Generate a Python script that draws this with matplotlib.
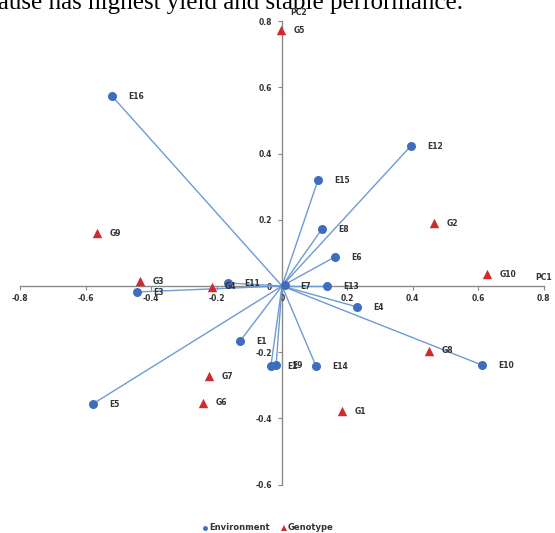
import matplotlib
matplotlib.use("Agg")
import matplotlib.pyplot as plt
from matplotlib.lines import Line2D

plt.rcParams["axes.unicode_minus"] = False

# Environment scores (PC1, PC2)
env_names = ["E1", "E2", "E3", "E4", "E5", "E6", "E7", "E8",
             "E9", "E10", "E11", "E12", "E13", "E14", "E15", "E16"]
env_pc1 = [-0.128, -0.034, -0.443, 0.229, -0.578, 0.162, 0.008, 0.122,
           -0.018, 0.612, -0.165, 0.394, 0.138, 0.104, 0.110, -0.520]
env_pc2 = [-0.166, -0.242, -0.018, -0.063, -0.356, 0.088, 0.002, 0.172,
           -0.239, -0.239, 0.009, 0.423, 0.000, -0.242, 0.320, 0.574]

# Genotype scores (PC1, PC2)
gen_names = ["G1", "G2", "G3", "G4", "G5", "G6", "G7", "G8", "G9", "G10"]
gen_pc1 = [0.183, 0.465, -0.434, -0.214, -0.003, -0.242, -0.223, 0.450, -0.566, 0.627]
gen_pc2 = [-0.378, 0.190, 0.015, -0.003, 0.773, -0.353, -0.272, -0.196, 0.160, 0.036]

x_ticks = [-0.8, -0.6, -0.4, -0.2, 0, 0.2, 0.4, 0.6, 0.8]
y_ticks = [-0.6, -0.4, -0.2, 0, 0.2, 0.4, 0.6, 0.8]

W, H = 555, 533
fig = plt.figure(figsize=(W / 100, H / 100), dpi=100)
fig.patch.set_facecolor("white")

# plot area in pixels
x0, x1 = 20.4, 543.6
y_top, y_bot = 21.2, 484.6
ax = fig.add_axes([x0 / W, (H - y_bot) / H, (x1 - x0) / W, (y_bot - y_top) / H])
ax.set_xlim(-0.8, 0.8)
ax.set_ylim(-0.6, 0.8)
ax.patch.set_alpha(0)

blue = "#3E6DBE"
line_blue = "#6E9AD6"
red = "#D22A2C"
txt = "#333333"

# vectors from origin to each environment
for px, py in zip(env_pc1, env_pc2):
    ax.plot([0, px], [0, py], color=line_blue, lw=1.0, zorder=2, clip_on=False)

ax.scatter(env_pc1, env_pc2, s=42, color=blue, marker="o", zorder=4, clip_on=False,
           linewidths=0)
ax.scatter(gen_pc1, gen_pc2, s=46, color=red, marker="^", zorder=4, clip_on=False,
           linewidths=0)

lab_kw = dict(textcoords="offset points", fontsize=5.5, fontweight="bold",
              color=txt, va="center", ha="left", zorder=5, annotation_clip=False)
for n, px, py in zip(env_names, env_pc1, env_pc2):
    ax.annotate(n, (px, py), xytext=(11.5, -0.5), **lab_kw)
for n, px, py in zip(gen_names, gen_pc1, gen_pc2):
    ax.annotate(n, (px, py), xytext=(9, 0), **lab_kw)

# axes through the origin
for side in ("top", "right"):
    ax.spines[side].set_visible(False)
for side in ("left", "bottom"):
    ax.spines[side].set_position(("data", 0))
    ax.spines[side].set_color("#8A8A8A")
    ax.spines[side].set_linewidth(1.0)
    ax.spines[side].set_zorder(1)

ax.set_xticks(x_ticks)
ax.set_yticks(y_ticks)
ax.set_xticklabels([f"{v:g}" for v in x_ticks])
ax.set_yticklabels([f"{v:g}" for v in y_ticks])
ax.tick_params(axis="both", direction="out", length=3, width=0.8, color="#8A8A8A",
               labelsize=5.5, labelcolor=txt)
ax.tick_params(axis="x", pad=3)
ax.tick_params(axis="y", pad=4)
for lab in ax.get_xticklabels() + ax.get_yticklabels():
    lab.set_fontweight("bold")

ax.text(0.8, 0.012, "PC1", fontsize=5.5, fontweight="bold", color=txt,
        ha="center", va="bottom")
ax.text(0.025, 0.826, "PC2", fontsize=5.5, fontweight="bold", color=txt,
        ha="left", va="center", clip_on=False)

# legend along the bottom
handles = [
    Line2D([], [], marker="o", ls="none", color=blue, markersize=3.5, markeredgewidth=0),
    Line2D([], [], marker="^", ls="none", color=red, markersize=4, markeredgewidth=0),
]
leg = fig.legend(handles, ["Environment", "Genotype"], loc="center",
                 bbox_to_anchor=(268 / W, 1 - 528 / H), ncol=2, frameon=False,
                 prop={"size": 6, "weight": "bold"}, handlelength=0.6,
                 handletextpad=0.2, columnspacing=1.4, borderaxespad=0)
for t in leg.get_texts():
    t.set_color(txt)

# running text of the page above the chart
fig.text(463 / W, 1 - 9 / H, "because has highest yield and stable performance.",
         fontsize=18, family="Liberation Serif", color="black",
         ha="right", va="baseline")

fig.savefig("out.png", dpi=100, facecolor="white")
